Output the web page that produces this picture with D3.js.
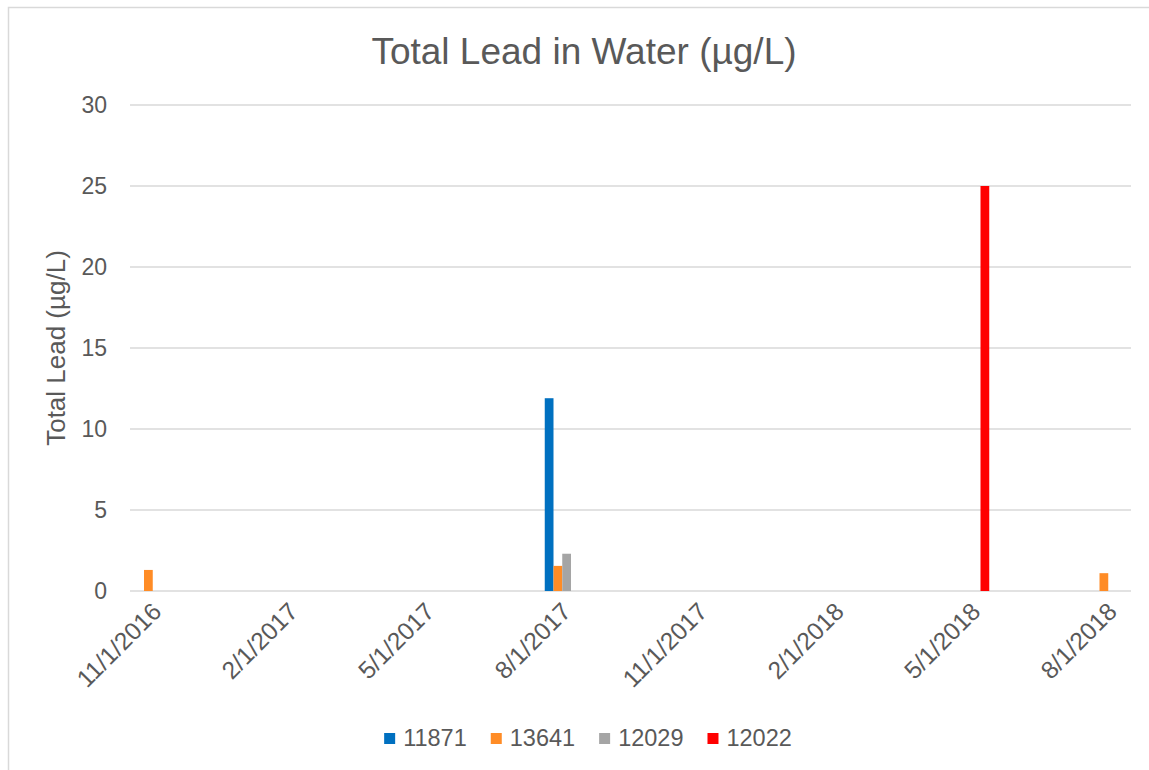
<!DOCTYPE html>
<html>
<head>
<meta charset="utf-8">
<script src="https://cdn.jsdelivr.net/npm/d3@7"></script>
<style>
  body { margin: 0; background: #fff; }
  svg { display: block; font-family: "Liberation Sans", Arial, sans-serif; }
</style>
</head>
<body>
<div id="chart"></div>
<script>
// sample months (the chart's date axis uses a one-month base unit)
const sampleMonths = ["2016-11", "2017-08", "2018-05", "2018-08"];

// series values per sample month (null = no sample)
const lead11871 = [null, 11.9, null, null];
const lead13641 = [1.3, 1.55, null, 1.1];
const lead12029 = [null, 2.3, null, null];
const lead12022 = [null, null, 25, null];

const seriesNames = ["11871", "13641", "12029", "12022"];
const seriesColors = ["#0070c0", "#ff8c26", "#a5a5a5", "#ff0000"];

const tickLabels = ["11/1/2016", "2/1/2017", "5/1/2017", "8/1/2017",
                    "11/1/2017", "2/1/2018", "5/1/2018", "8/1/2018"];
const yTicks = [0, 5, 10, 15, 20, 25, 30];

const axisStart = "2016-11", axisEnd = "2018-08";

function init() {
    var W = 1149, H = 770;
    var margin = { top: 105, left: 130, right: W - 1131, bottom: H - 591 };
    var textColor = "#595959", gridColor = "#d9d9d9";

    var svg = d3.select("#chart").append("svg")
        .attr("width", W)
        .attr("height", H);

    // chart border
    svg.append("rect")
        .attr("x", 8.5).attr("y", 7.5)
        .attr("width", 1170).attr("height", 800)
        .attr("fill", "#fff")
        .attr("stroke", gridColor)
        .attr("stroke-width", 1.5);

    // month slots for the date axis
    var parseMonth = d3.timeParse("%Y-%m");
    var fmt = d3.timeFormat("%Y-%m");
    var months = d3.timeMonth.range(parseMonth(axisStart), d3.timeMonth.offset(parseMonth(axisEnd), 1)).map(fmt);

    var x0 = d3.scaleBand().domain(months).range([margin.left, W - margin.right]);
    // gap width 120% of a single column
    var gap = x0.bandwidth() * 1.2 / 5.2;
    var x1 = d3.scaleBand().domain(seriesNames).range([gap / 2, x0.bandwidth() - gap / 2]);
    var y = d3.scaleLinear().domain([0, 30]).range([H - margin.bottom, margin.top]);

    // gridlines
    svg.append("g")
        .selectAll("line")
        .data(yTicks)
        .enter()
        .append("line")
        .attr("x1", margin.left)
        .attr("x2", W - margin.right)
        .attr("y1", d => y(d))
        .attr("y2", d => y(d))
        .attr("stroke", gridColor)
        .attr("stroke-width", 1.5);

    // y tick labels
    svg.append("g")
        .selectAll("text")
        .data(yTicks)
        .enter()
        .append("text")
        .attr("x", 107)
        .attr("y", d => y(d))
        .attr("dy", "0.35em")
        .attr("text-anchor", "end")
        .attr("fill", textColor)
        .style("font-size", "23px")
        .text(d => d);

    // bars
    var allSeries = [lead11871, lead13641, lead12029, lead12022];
    allSeries.forEach(function (vals, s) {
        var pts = [];
        for (var i = 0; i < sampleMonths.length; i++) {
            if (vals[i] != null) pts.push({ month: sampleMonths[i], value: vals[i] });
        }
        svg.append("g")
            .selectAll("rect")
            .data(pts)
            .enter()
            .append("rect")
            .attr("x", d => x0(d.month) + x1(seriesNames[s]))
            .attr("width", x1.bandwidth())
            .attr("y", d => y(d.value))
            .attr("height", d => y(0) - y(d.value))
            .attr("fill", seriesColors[s]);
    });

    // x tick labels, every 3 months
    var tickMonths = months.filter((m, i) => i % 3 == 0);
    svg.append("g")
        .selectAll("text")
        .data(tickMonths)
        .enter()
        .append("text")
        .attr("transform", d => "translate(" + (x0(d) + x0.bandwidth() / 2 + 4) + "," + 607 + ")rotate(-45)")
        .attr("text-anchor", "end")
        .attr("dy", "0.35em")
        .attr("fill", textColor)
        .style("font-size", "24.5px")
        .text((d, i) => tickLabels[i]);

    // title
    var title = svg.append("text")
        .attr("x", 584)
        .attr("y", 64)
        .attr("text-anchor", "middle")
        .attr("fill", textColor)
        .style("font-size", "37px");
    title.append("tspan").text("Total Lead in Water ");
    title.append("tspan").style("font-family", "'Liberation Sans Narrow', 'Liberation Sans', sans-serif").text("(µg/L)");

    // y axis title
    var yTitle = svg.append("text")
        .attr("transform", "translate(65," + ((y(0) + y(30)) / 2) + ")rotate(-90)")
        .attr("text-anchor", "middle")
        .attr("fill", textColor)
        .style("font-size", "26px");
    yTitle.append("tspan").text("Total Lead ");
    yTitle.append("tspan").style("font-family", "'Liberation Sans Narrow', 'Liberation Sans', sans-serif").text("(µg/L)");

    // legend
    var legend = svg.append("g");
    var cursor = 0;
    seriesNames.forEach(function (name, i) {
        var item = legend.append("g").attr("transform", "translate(" + cursor + ",0)");
        item.append("rect")
            .attr("x", 0).attr("y", 733)
            .attr("width", 11).attr("height", 11)
            .attr("fill", seriesColors[i]);
        var t = item.append("text")
            .attr("x", 19).attr("y", 738)
            .attr("dy", "0.35em")
            .attr("fill", textColor)
            .style("font-size", "23.5px")
            .text(name);
        cursor += 19 + t.node().getComputedTextLength() + 24;
    });
    var legendWidth = cursor - 24;
    legend.attr("transform", "translate(" + (588 - legendWidth / 2) + ",0)");
}

init();
</script>
</body>
</html>
